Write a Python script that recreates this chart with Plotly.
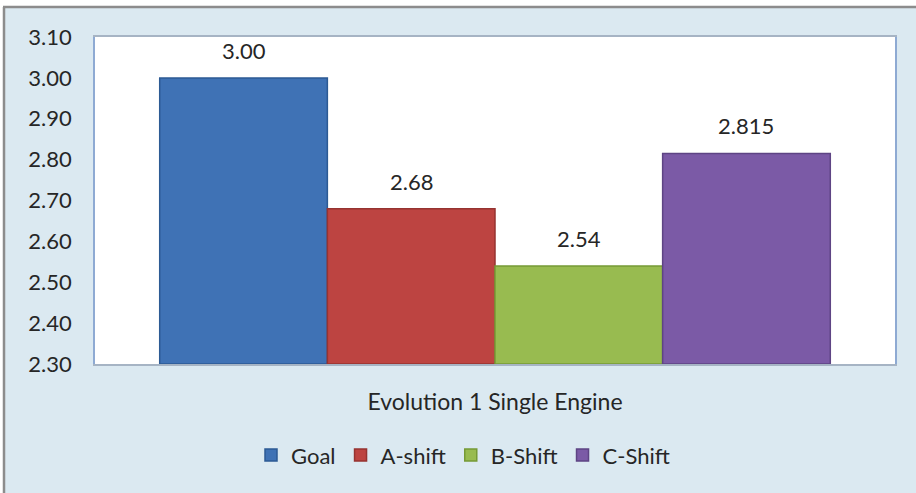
import plotly.graph_objects as go

series = ["Goal", "A-shift", "B-Shift", "C-Shift"]
values = [3.00, 2.68, 2.54, 2.815]
labels = ["3.00", "2.68", "2.54", "2.815"]
category = "Evolution 1 Single Engine"
yticks = [2.30, 2.40, 2.50, 2.60, 2.70, 2.80, 2.90, 3.00, 3.10]
colors = ["#3f72b5", "#bd4441", "#98bb50", "#7b5aa6"]
edges = ["#2c5a94", "#963331", "#769a36", "#5e4484"]

FONT = "Lato"
fig = go.Figure()
for i, (s, v) in enumerate(zip(series, values)):
    fig.add_trace(go.Bar(
        x=[i], y=[v - yticks[0]], base=[yticks[0]], name=s, width=1.0,
        marker=dict(color=colors[i], line=dict(color=edges[i], width=1.5)),
        hoverinfo="skip",
    ))
    fig.add_annotation(x=i, y=v, text=labels[i], showarrow=False,
                       yanchor="bottom", yshift=12,
                       font=dict(family=FONT, size=22, color="#262626"))

fig.update_layout(
    width=916, height=493,
    margin=dict(l=95, r=21, t=37, b=129),
    paper_bgcolor="#dbe9f1", plot_bgcolor="white",
    barmode="overlay",
    font=dict(family=FONT, size=22, color="#262626"),
    showlegend=True,
    legend=dict(orientation="h", x=0.46, xanchor="center", y=-0.215, yanchor="top",
                font=dict(size=22), itemwidth=30, traceorder="normal",
                bgcolor="rgba(0,0,0,0)"),
    xaxis=dict(range=[-0.886, 3.886], tickvals=[1.5], ticktext=[category],
               showline=True, linecolor="#a6b4c4", linewidth=1.5, mirror=True,
               ticks="", ticklabelstandoff=17, showgrid=False, zeroline=False,
               tickfont=dict(size=23)),
    yaxis=dict(range=[2.30, 3.10], tickvals=yticks,
               ticktext=[f"{t:.2f}" for t in yticks],
               showline=True, linecolor="#8eaad3", linewidth=1.5, mirror=True,
               ticks="", ticklabelstandoff=17, showgrid=False, zeroline=False,
               tickfont=dict(size=22)),
)

# white surround and gray frame of the outer chart area
px_x = lambda p: (p - 95) / 800
px_y = lambda p: (364 - p) / 327
fig.add_shape(type="rect", xref="paper", yref="paper", x0=px_x(-5), x1=px_x(930),
              y0=px_y(6), y1=px_y(-5), fillcolor="white", line=dict(width=0), layer="below")
fig.add_shape(type="rect", xref="paper", yref="paper", x0=px_x(-5), x1=px_x(3),
              y0=px_y(500), y1=px_y(-5), fillcolor="white", line=dict(width=0), layer="below")
fig.add_shape(type="line", xref="paper", yref="paper", x0=px_x(3), x1=px_x(930),
              y0=px_y(7), y1=px_y(7), line=dict(color="#8c8c8c", width=2.5))
fig.add_shape(type="line", xref="paper", yref="paper", x0=px_x(4), x1=px_x(4),
              y0=px_y(7), y1=px_y(500), line=dict(color="#8c8c8c", width=2.5))

fig.write_html("out.html", config={"displayModeBar": False},
               post_script="document.body.style.margin='0';")
